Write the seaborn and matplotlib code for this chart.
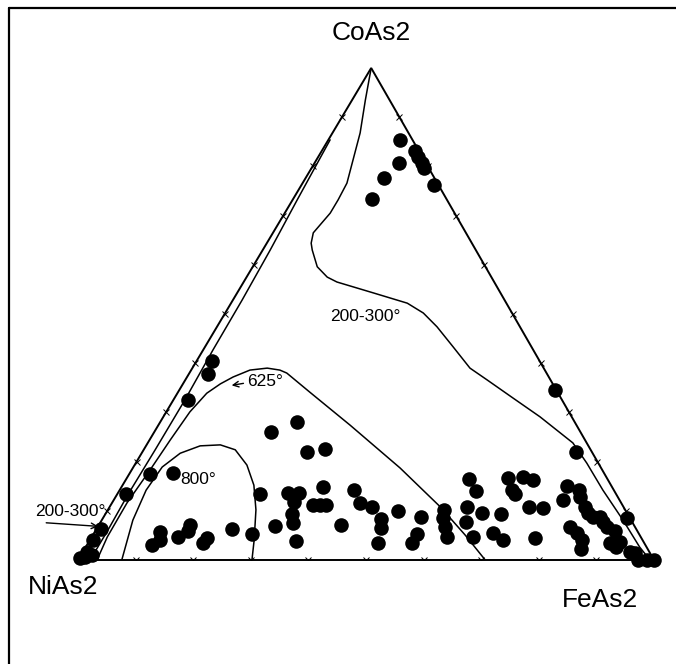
import numpy as np
import matplotlib
matplotlib.use("Agg")
import matplotlib.pyplot as plt
from matplotlib.lines import Line2D
import seaborn as sns

# ── Data: compositions in % (FeAs2, CoAs2); NiAs2 is the remainder ─────────
pts_fe = [12.5, 16.2, 14.7, 18.7, 19.5, 17.4, 13.6, 23.0, 13.7,
          2.7, 3.3, 2.6, 3.6, 7.5, 1.5, 0.8, 0.5, 0.7, 0.1, 1.9, 0.9,
          65.2, 75.3,
          11.3, 11.3, 12.2, 15.0, 15.8, 16.1, 20.1, 19.9, 23.5, 27.5, 24.8,
          20.3, 23.8, 28.6, 31.4, 30.7, 29.5, 31.4, 31.5, 32.4, 33.5, 35.9,
          35.0, 35.1, 36.3, 37.4, 42.0, 40.7, 43.1, 45.6, 48.4, 49.3, 50.3,
          50.5, 55.1, 56.2, 56.2, 58.4, 59.0, 60.3, 61.7, 59.5, 62.0, 62.0,
          65.3, 63.4, 66.2, 69.3, 68.7, 71.7, 66.2, 68.1, 69.0, 68.7, 70.7,
          72.8, 75.3, 77.1, 77.2, 78.0, 79.7, 80.6, 82.5, 83.7, 85.0, 86.2,
          87.2, 88.4, 90.2, 90.6, 92.1, 92.2, 82.0, 83.8, 85.4, 86.2, 91.0,
          95.0, 96.0, 97.2, 98.8, 100.0]
pts_co = [85.4, 83.1, 80.7, 80.7, 79.7, 81.9, 77.6, 76.2, 73.4,
          40.4, 37.8, 32.5, 17.5, 17.7, 13.4, 6.3, 4.1, 1.6, 0.4, 1.0, 0.6,
          34.6, 22.0,
          5.7, 3.0, 4.1, 4.7, 7.1, 5.9, 4.5, 3.5, 6.3, 5.3, 13.4,
          26.0, 28.0, 22.0, 22.6, 6.9, 13.6, 13.6, 11.8, 9.3, 7.5, 3.9,
          14.8, 11.2, 11.2, 11.2, 7.1, 14.2, 11.6, 10.8, 8.3, 6.5, 3.5,
          10.0, 8.7, 5.3, 3.5, 10.2, 8.5, 6.7, 4.7, 16.5, 14.0, 10.8,
          9.6, 7.7, 4.7, 5.5, 9.3, 4.1, 16.7, 14.2, 13.4, 16.9, 16.3,
          10.8, 10.6, 4.5, 15.0, 12.2, 14.2, 12.8, 10.8, 9.6, 8.7, 8.7,
          7.7, 6.7, 5.9, 3.5, 2.6, 3.7, 6.7, 5.5, 4.1, 2.2, 8.5,
          1.6, 1.4, 0.0, 0.0, 0.0]

# isotherms (Fe %, Co %)
iso_high_fe = [0.0, 2.3, 4.8, 7.7, 7.9, 7.9, 7.0, 7.7, 8.6, 11.2, 14.0, 16.2, 23.6,
               30.6, 34.4, 38.2, 43.1, 48.2, 52.4, 58.8, 65.4, 73.8, 78.3, 83.9,
               90.5, 96.2, 99.3]
iso_high_co = [100.0, 93.5, 86.8, 76.6, 73.2, 70.5, 66.5, 64.4, 63.0, 59.6, 57.5, 56.5,
               54.3, 52.2, 50.2, 47.4, 43.3, 39.0, 36.6, 32.9, 29.1, 23.8, 19.7,
               14.2, 8.1, 2.6, 0.0]
iso_low_fe = [2.1, 2.1, 1.9, 2.0, 2.0, 1.7, 1.6, 1.3, 0.8, 0.3]
iso_low_co = [0.0, 6.1, 13.4, 22.4, 32.5, 42.7, 52.8, 63.0, 73.2, 85.4]
iso_625_fe = [3.3, 2.7, 2.6, 3.2, 3.6, 4.1, 5.1, 6.5, 8.0, 10.2, 13.0, 15.4, 16.9,
              22.9, 33.3, 46.4, 57.4, 64.6, 70.7]
iso_625_co = [0.0, 4.7, 11.6, 18.3, 24.4, 30.1, 33.9, 35.8, 37.2, 38.6, 39.0, 38.6,
              38.0, 34.1, 27.4, 18.7, 10.8, 5.1, 0.0]
iso_800_fe = [7.6, 5.4, 4.6, 5.0, 6.7, 9.4, 12.8, 15.9, 19.5, 22.8, 25.7, 28.5, 30.2]
iso_800_co = [0.0, 8.1, 14.2, 18.9, 21.7, 23.2, 23.4, 22.4, 19.3, 15.2, 10.2, 4.1, 0.0]

tick_steps = [10, 20, 30, 40, 50, 60, 70, 80, 90]
corner_labels = ["NiAs2", "FeAs2", "CoAs2"]

# the scanned triangle is slightly skewed: apex sits at 50.9 % of the base
APEX_X = 0.509


def tern(fe, co):
    fe = np.asarray(fe, float)
    co = np.asarray(co, float)
    return fe + co * APEX_X, co


sns.set_style("white")
plt.rcParams["font.family"] = ["Liberation Sans", "DejaVu Sans"]
plt.rcParams["text.color"] = "black"

fig = plt.figure(figsize=(6.76, 6.64), dpi=100)
ax = fig.add_axes([78 / 676, 104 / 664, 576 / 676, 492 / 664])
ax.set_xlim(0, 100)
ax.set_ylim(0, 100)
ax.axis("off")

# triangle frame
fx, fy = tern([0, 100, 0, 0], [0, 0, 100, 0])
ax.plot(fx, fy, color="black", lw=1.4, clip_on=False, solid_joinstyle="miter")

# small tick marks on the three sides
t = np.array(tick_steps, float)
for fe_t, co_t in [(t, 0 * t), (0 * t, t), (100 - t, t)]:
    tx, ty = tern(fe_t, co_t)
    ax.plot(tx, ty, ls="none", marker="x", ms=4, mew=0.7, color="black")

# isotherms
for fe_c, co_c in [(iso_high_fe, iso_high_co), (iso_low_fe, iso_low_co),
                   (iso_625_fe, iso_625_co), (iso_800_fe, iso_800_co)]:
    cx, cy = tern(fe_c, co_c)
    sns.lineplot(x=cx, y=cy, sort=False, estimator=None, color="black",
                 lw=1.1, ax=ax)

# analyses
px, py = tern(pts_fe, pts_co)
sns.scatterplot(x=px, y=py, s=110, color="black", edgecolor="black",
                linewidth=0, ax=ax, clip_on=False, zorder=5)

# isotherm labels
lab = dict(transform=ax.transAxes, fontsize=12.5, ha="center", va="center",
           color="black")
ax.text(0.498, 0.494, "200-300°", **lab)
ax.text(0.325, 0.362, "625°", **lab)
ax.annotate("", xy=(0.262, 0.354), xytext=(0.292, 0.360), xycoords="axes fraction",
            arrowprops=dict(arrowstyle="->", lw=1.0, color="black"))
ax.text(0.208, 0.163, "800°", **lab)
ax.text(-0.014, 0.098, "200-300°", **lab)
ax.annotate("", xy=(0.040, 0.068), xytext=(-0.060, 0.076), xycoords="axes fraction",
            arrowprops=dict(arrowstyle="->", lw=1.0, color="black"))

# corner labels
fig.text(0.093, 0.116, corner_labels[0], fontsize=19, ha="center", va="center")
fig.text(0.888, 0.096, corner_labels[1], fontsize=19, ha="center", va="center")
fig.text(0.549, 0.951, corner_labels[2], fontsize=19, ha="center", va="center")

# cropped scan border (top and left only)
fig.add_artist(Line2D([0.014, 1.0], [0.988, 0.988], color="black", lw=1.6))
fig.add_artist(Line2D([0.014, 0.014], [0.0, 0.988], color="black", lw=1.6))

fig.savefig("out.png", dpi=100)
